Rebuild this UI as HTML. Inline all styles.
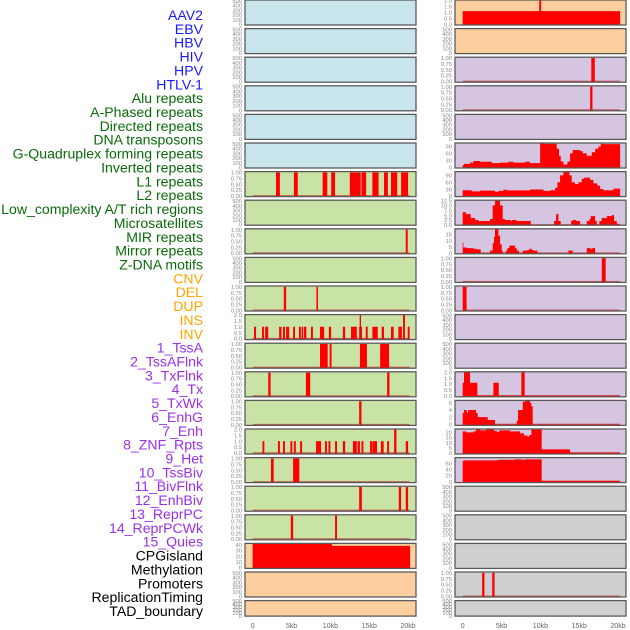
<!DOCTYPE html>
<html><head><meta charset="utf-8"><style>
html,body{margin:0;padding:0;background:#fff;}
svg{display:block;font-family:"Liberation Sans",sans-serif;}
</style></head><body>
<svg id="chart" width="630" height="630" viewBox="0 0 630 630" xmlns="http://www.w3.org/2000/svg"></svg>
<script>
// ---- data ----
const trackLabels = ["AAV2","EBV","HBV","HIV","HPV","HTLV-1","Alu repeats","A-Phased repeats","Directed repeats","DNA transposons","G-Quadruplex forming repeats","Inverted repeats","L1 repeats","L2 repeats","Low_complexity A/T rich regions","Microsatellites","MIR repeats","Mirror repeats","Z-DNA motifs","CNV","DEL","DUP","INS","INV","1_TssA","2_TssAFlnk","3_TxFlnk","4_Tx","5_TxWk","6_EnhG","7_Enh","8_ZNF_Rpts","9_Het","10_TssBiv","11_BivFlnk","12_EnhBiv","13_ReprPC","14_ReprPCWk","15_Quies","CPGisland","Methylation","Promoters","ReplicationTiming","TAD_boundary"];
const labelGroups = [6,13,5,15,5];
const xTickValues = [0,5,10,15,20];
const xTickLabels = ["0","5kb","10kb","15kb","20kb"];
const dataEnd = 20.26;

// binary / interval segments [start kb, end kb, value]
const segL7 = [[3.0,3.5,1],[5.3,5.8,1],[9.0,9.6,1],[10.1,10.6,1],[12.5,13.9,1],[14.0,14.6,1],[15.4,16.2,1],[16.9,17.4,1],[17.8,18.6,1],[19.1,20.0,1]];
const segL9 = [[19.7,19.95,1]];
const segL11 = [[4.0,4.3,1],[8.2,8.4,1]];
const segL12 = [[0.17,0.43,1],[1.2,1.45,1],[1.6,2.0,1],[3.4,3.7,1],[3.9,4.15,1],[4.3,4.7,1],[5.2,5.45,1],[5.95,6.2,1],[6.3,6.5,1],[6.6,6.9,1],[7.5,7.75,1],[8.66,9.2,1],[9.8,10.1,1],[11.6,11.9,1],[12.65,13.4,1],[13.7,13.77,1],[13.77,13.94,2],[13.94,14.0,1],[14.55,14.8,1],[15.4,16.1,1],[16.6,16.9,1],[17.8,18.15,1],[18.75,19.2,1],[19.35,19.6,2],[19.95,20.2,1]];
const segL13 = [[8.66,9.65,1],[9.9,10.15,1],[13.8,14.7,1],[16.4,17.55,1]];
const segL14 = [[2.0,2.3,1],[6.85,7.4,1],[17.3,17.6,1]];
const segL15 = [[13.7,14.0,1]];
const segL16 = [[1.25,1.5,1],[3.25,3.5,1],[3.9,4.15,1],[4.85,5.1,1],[5.3,5.55,1],[6.1,6.35,1],[8.15,8.8,1],[9.3,9.55,1],[9.75,10.0,1],[10.6,10.85,1],[11.6,11.9,1],[12.9,13.4,1],[13.5,13.8,1],[14.0,14.25,1],[15.1,15.35,1],[15.4,16.0,1],[16.5,16.85,1],[17.3,17.55,1],[18.2,18.5,2],[19.7,20.0,1]];
const segL17 = [[2.35,2.7,1],[5.2,6.0,1]];
const segL18 = [[13.7,14.05,1],[18.8,19.1,1],[19.7,20.0,1]];
const segL19 = [[4.9,5.2,1],[10.6,10.85,1]];
const segR3 = [[16.55,17.0,1]];
const segR4 = [[16.4,16.7,1]];
const segR10 = [[17.9,18.4,1]];
const segR11 = [[0,0.5,1]];
const segR21 = [[2.5,2.8,1],[3.8,4.1,1]];

// step-area series: start positions (kb) and values
const cnvStarts = [0,10.2];
const cnvValues = [41.5,38];
const insStarts = [0,9.85,10.1];
const insValues = [1.1,2.05,1.1];
const r6Starts = [0,0.17,0.94,1.37,2.23,3.73,4.81,5.88,6.52,8.03,8.67,9.96,10.39,12.1,12.4,12.62,12.96,13.48,13.82,14.16,15.11,15.45,15.97,16.61,17.04,17.47,17.77,18.11];
const r6Values = [10,15,20,27,24,18,20,24,20,24,18,105,102,80,50,25,12,25,60,75,70,60,50,65,80,90,102,100];
const r7Starts = [0,1.16,2.23,4.16,4.59,5.24,5.67,8.67,10.39,11.24,11.89,12.19,12.53,12.96,13.73,14.03,14.46,14.89,15.32,15.62,16.39,16.82,17.34,17.68,18.11,19.4];
const r7Values = [25,20,23,18,22,27,24,28,22,25,35,60,90,105,90,60,52,60,75,80,70,55,45,30,25,32];
const r8Starts = [0,0.43,1.03,1.59,2.02,3.52,3.86,4.16,4.81,5.15,5.45,6.18,6.31,6.95,8.76,11.76,12.02,12.32,12.62,13.95,14.16,14.59,15.11,15.97,16.31,16.48,17.04,17.25,17.6,17.9,18.54,19.18,19.48,19.83];
const r8Values = [6.5,5.5,3.5,2.5,2,3,10,13,10,3,2.5,2,2.5,2,0,2,5.5,2,0,2,2.5,2,0,2,3,4.5,2,0,2,3.5,4.5,5,2,0.5];
const r9Starts = [0,0.09,0.52,1.37,1.8,2.32,3.52,3.86,4.03,4.16,4.59,4.81,5.02,5.15,5.54,5.75,6.01,6.74,6.95,7.25,7.73,8.33,8.58,8.88,9.1,9.61,13.6,14.16,15.97,16.48,16.61,17.04];
const r9Values = [8.5,4.5,4,3.5,3,0,2,8,13,19,14,7,2,0,2,4,6,4,2,0,2,2.5,3.5,2.5,2,0,2,0,4,3,4,0];
const r14Starts = [0,0.17,0.94,1.89,3.95,4.64,7.55,7.98];
const r14Values = [1.1,2,1.1,0,1.1,0,2,0];
const r15Starts = [0,0.17,0.52,0.69,1.72,1.93,3.22,4.16,6.95,7.12,7.73,8.03,8.67,8.84,9.01];
const r15Values = [3.2,4,3.3,4,3.2,2,1.2,0,1,4,6.3,7.2,6,5,0];
const r16Starts = [0,0.43,1.37,1.72,2.23,3.0,4.03,4.38,4.72,6.09,7.38,7.9,8.33,8.58,8.84,10.17,13.82];
const r16Values = [21,20,21,23,22,23,21.5,20.5,22,21,19,17,16,17.5,23,3.5,0.5];
const r17Starts = [0,0.17,4.59,6.74,7.6,8.03,10.17];
const r17Values = [68,70,72,73,72,73,2.5];

// tick label sets
const ticksEmpty = ["0","100","200","300","400","500"];
const ticksBinary = ["0.00","0.25","0.50","0.75","1.00"];
const ticksTwo = ["0.0","0.5","1.0","1.5","2.0"];
const ticksCnv = ["0","10","20","30","40"];
const ticksR6 = ["0","30","60","90"];
const ticksR8 = ["0.0","2.5","5.0","7.5","10.0","12.5"];
const ticksR9 = ["0","5","10","15"];
const ticksR15 = ["0","2","4","6"];
const ticksR16 = ["0","5","10","15","20"];
const ticksR17 = ["0","20","40","60"];

const C = {blue:"#c8e4ec",green:"#c9e2a5",orange:"#fecf9e",purple:"#d5c5e1",gray:"#cfcfcf"};
const BIN=[-0.035,1.035], EMP=[-15,515], TWO=[-0.09,2.03];
const panels = [];
function P(col,row,bg,lim,ticks,kind,a,b){panels.push({col,row,bg,lim,ticks,kind,a,b});}
for(let r=0;r<6;r++) P(0,r,C.blue,EMP,ticksEmpty,"empty");
P(0,6,C.green,BIN,ticksBinary,"seg",segL7);
P(0,7,C.green,EMP,ticksEmpty,"empty");
P(0,8,C.green,BIN,ticksBinary,"seg",segL9);
P(0,9,C.green,EMP,ticksEmpty,"empty");
P(0,10,C.green,BIN,ticksBinary,"seg",segL11);
P(0,11,C.green,TWO,ticksTwo,"seg",segL12);
P(0,12,C.green,BIN,ticksBinary,"seg",segL13);
P(0,13,C.green,BIN,ticksBinary,"seg",segL14);
P(0,14,C.green,BIN,ticksBinary,"seg",segL15);
P(0,15,C.green,TWO,ticksTwo,"seg",segL16);
P(0,16,C.green,BIN,ticksBinary,"seg",segL17);
P(0,17,C.green,BIN,ticksBinary,"seg",segL18);
P(0,18,C.green,BIN,ticksBinary,"seg",segL19);
P(0,19,C.orange,[-1.8,42.4],ticksCnv,"step",cnvStarts,cnvValues);
P(0,20,C.orange,EMP,ticksEmpty,"empty");
P(0,21,C.orange,EMP,ticksEmpty,"empty");
P(1,0,C.orange,[-0.06,2.03],ticksTwo,"step",insStarts,insValues);
P(1,1,C.orange,EMP,ticksEmpty,"empty");
P(1,2,C.purple,BIN,ticksBinary,"seg",segR3);
P(1,3,C.purple,BIN,ticksBinary,"seg",segR4);
P(1,4,C.purple,EMP,ticksEmpty,"empty");
P(1,5,C.purple,[-3,105],ticksR6,"step",r6Starts,r6Values);
P(1,6,C.purple,[-3,106.5],ticksR6,"step",r7Starts,r7Values);
P(1,7,C.purple,[-0.17,12.67],ticksR8,"step",r8Starts,r8Values);
P(1,8,C.purple,[-0.55,19.4],ticksR9,"step",r9Starts,r9Values);
P(1,9,C.purple,BIN,ticksBinary,"seg",segR10);
P(1,10,C.purple,BIN,ticksBinary,"seg",segR11);
P(1,11,C.purple,EMP,ticksEmpty,"empty");
P(1,12,C.purple,EMP,ticksEmpty,"empty");
P(1,13,C.purple,[-0.09,2.03],ticksTwo,"step",r14Starts,r14Values);
P(1,14,C.purple,[-0.29,6.68],ticksR15,"step",r15Starts,r15Values);
P(1,15,C.purple,[-1,23.3],ticksR16,"step",r16Starts,r16Values);
P(1,16,C.purple,[-3.4,79],ticksR17,"step",r17Starts,r17Values);
P(1,17,C.gray,EMP,ticksEmpty,"empty");
P(1,18,C.gray,EMP,ticksEmpty,"empty");
P(1,19,C.gray,EMP,ticksEmpty,"empty");
P(1,20,C.gray,BIN,ticksBinary,"seg",segR21);
P(1,21,C.gray,EMP,ticksEmpty,"empty");

// ---- drawing ----
const NS="http://www.w3.org/2000/svg";
const svg=document.getElementById("chart");
function mk(tag,attrs,parent){const e=document.createElementNS(NS,tag);for(const k in attrs)e.setAttribute(k,attrs[k]);(parent||svg).appendChild(e);return e;}
const colX=[245,455], colW=171, kbPx=7.77, kb0=[252.7,462.7];
function xScale(col,kb){return kb0[col]+kb*kbPx;}

const groupColors=["#1a1aff","#0a6a0a","#ffa500","#9b30e8","#000000"];
let li=0;
labelGroups.forEach((n,g)=>{for(let k=0;k<n;k++){const t=mk("text",{x:203,y:20+li*13.86,"text-anchor":"end","font-size":"14.1",fill:groupColors[g]});


t.textContent=trackLabels[li];li++;}});

panels.forEach(p=>{
  const top=p.row*28.6, h=(p.row===21?15.5:25), x=colX[p.col];
  const g=mk("g",{});
  
  
  const yS=v=>top+h-(v-p.lim[0])/(p.lim[1]-p.lim[0])*h;
  const bg=mk("rect",{x:x,y:top,width:colW,height:h,fill:p.bg},g);
  
  
  p.ticks.forEach(tl=>{const v=parseFloat(tl);const t=mk("text",{x:x-3,y:yS(v)+2.2,"text-anchor":"end","font-size":"5.8",fill:"#888"},g);
    
    
    t.textContent=tl;});
  if(p.kind!=="empty"){
    const bl=mk("line",{x1:xScale(p.col,0),x2:xScale(p.col,20.2),y1:yS(0),y2:yS(0),stroke:"#c0302a","stroke-width":1.4,opacity:0.7},g);
    
    
  }
  if(p.kind==="seg"){
    p.a.forEach(s=>{const x1=xScale(p.col,s[0]),x2=xScale(p.col,s[1]);const y1=yS(s[2]);
      const r=mk("rect",{x:x1,y:y1,width:Math.max(1,x2-x1),height:top+h-y1,fill:"#ff0000"},g);
      
      });
  } else if(p.kind==="step"){
    const base=top+h;let d="M"+xScale(p.col,p.a[0])+","+base;
    for(let i=0;i<p.a.length;i++){const xs=xScale(p.col,p.a[i]),xe=xScale(p.col,i+1<p.a.length?p.a[i+1]:dataEnd);const y=Math.max(top,yS(p.b[i]));d+=" L"+xs+","+y+" L"+xe+","+y;}
    d+=" L"+xScale(p.col,dataEnd)+","+base+" Z";
    const a=mk("path",{d:d,fill:"#ff0000"},g);
    
    
  }
  const br=mk("rect",{x:x,y:top,width:colW,height:h,fill:"none",stroke:"#5a5a5a","stroke-width":1.3},g);
  
  
});
[0,1].forEach(col=>{xTickValues.forEach((v,i)=>{const t=mk("text",{x:xScale(col,v),y:628,"text-anchor":"middle","font-size":"7",fill:"#666"});
  
  
  t.textContent=xTickLabels[i];});});
</script>
</body></html>
